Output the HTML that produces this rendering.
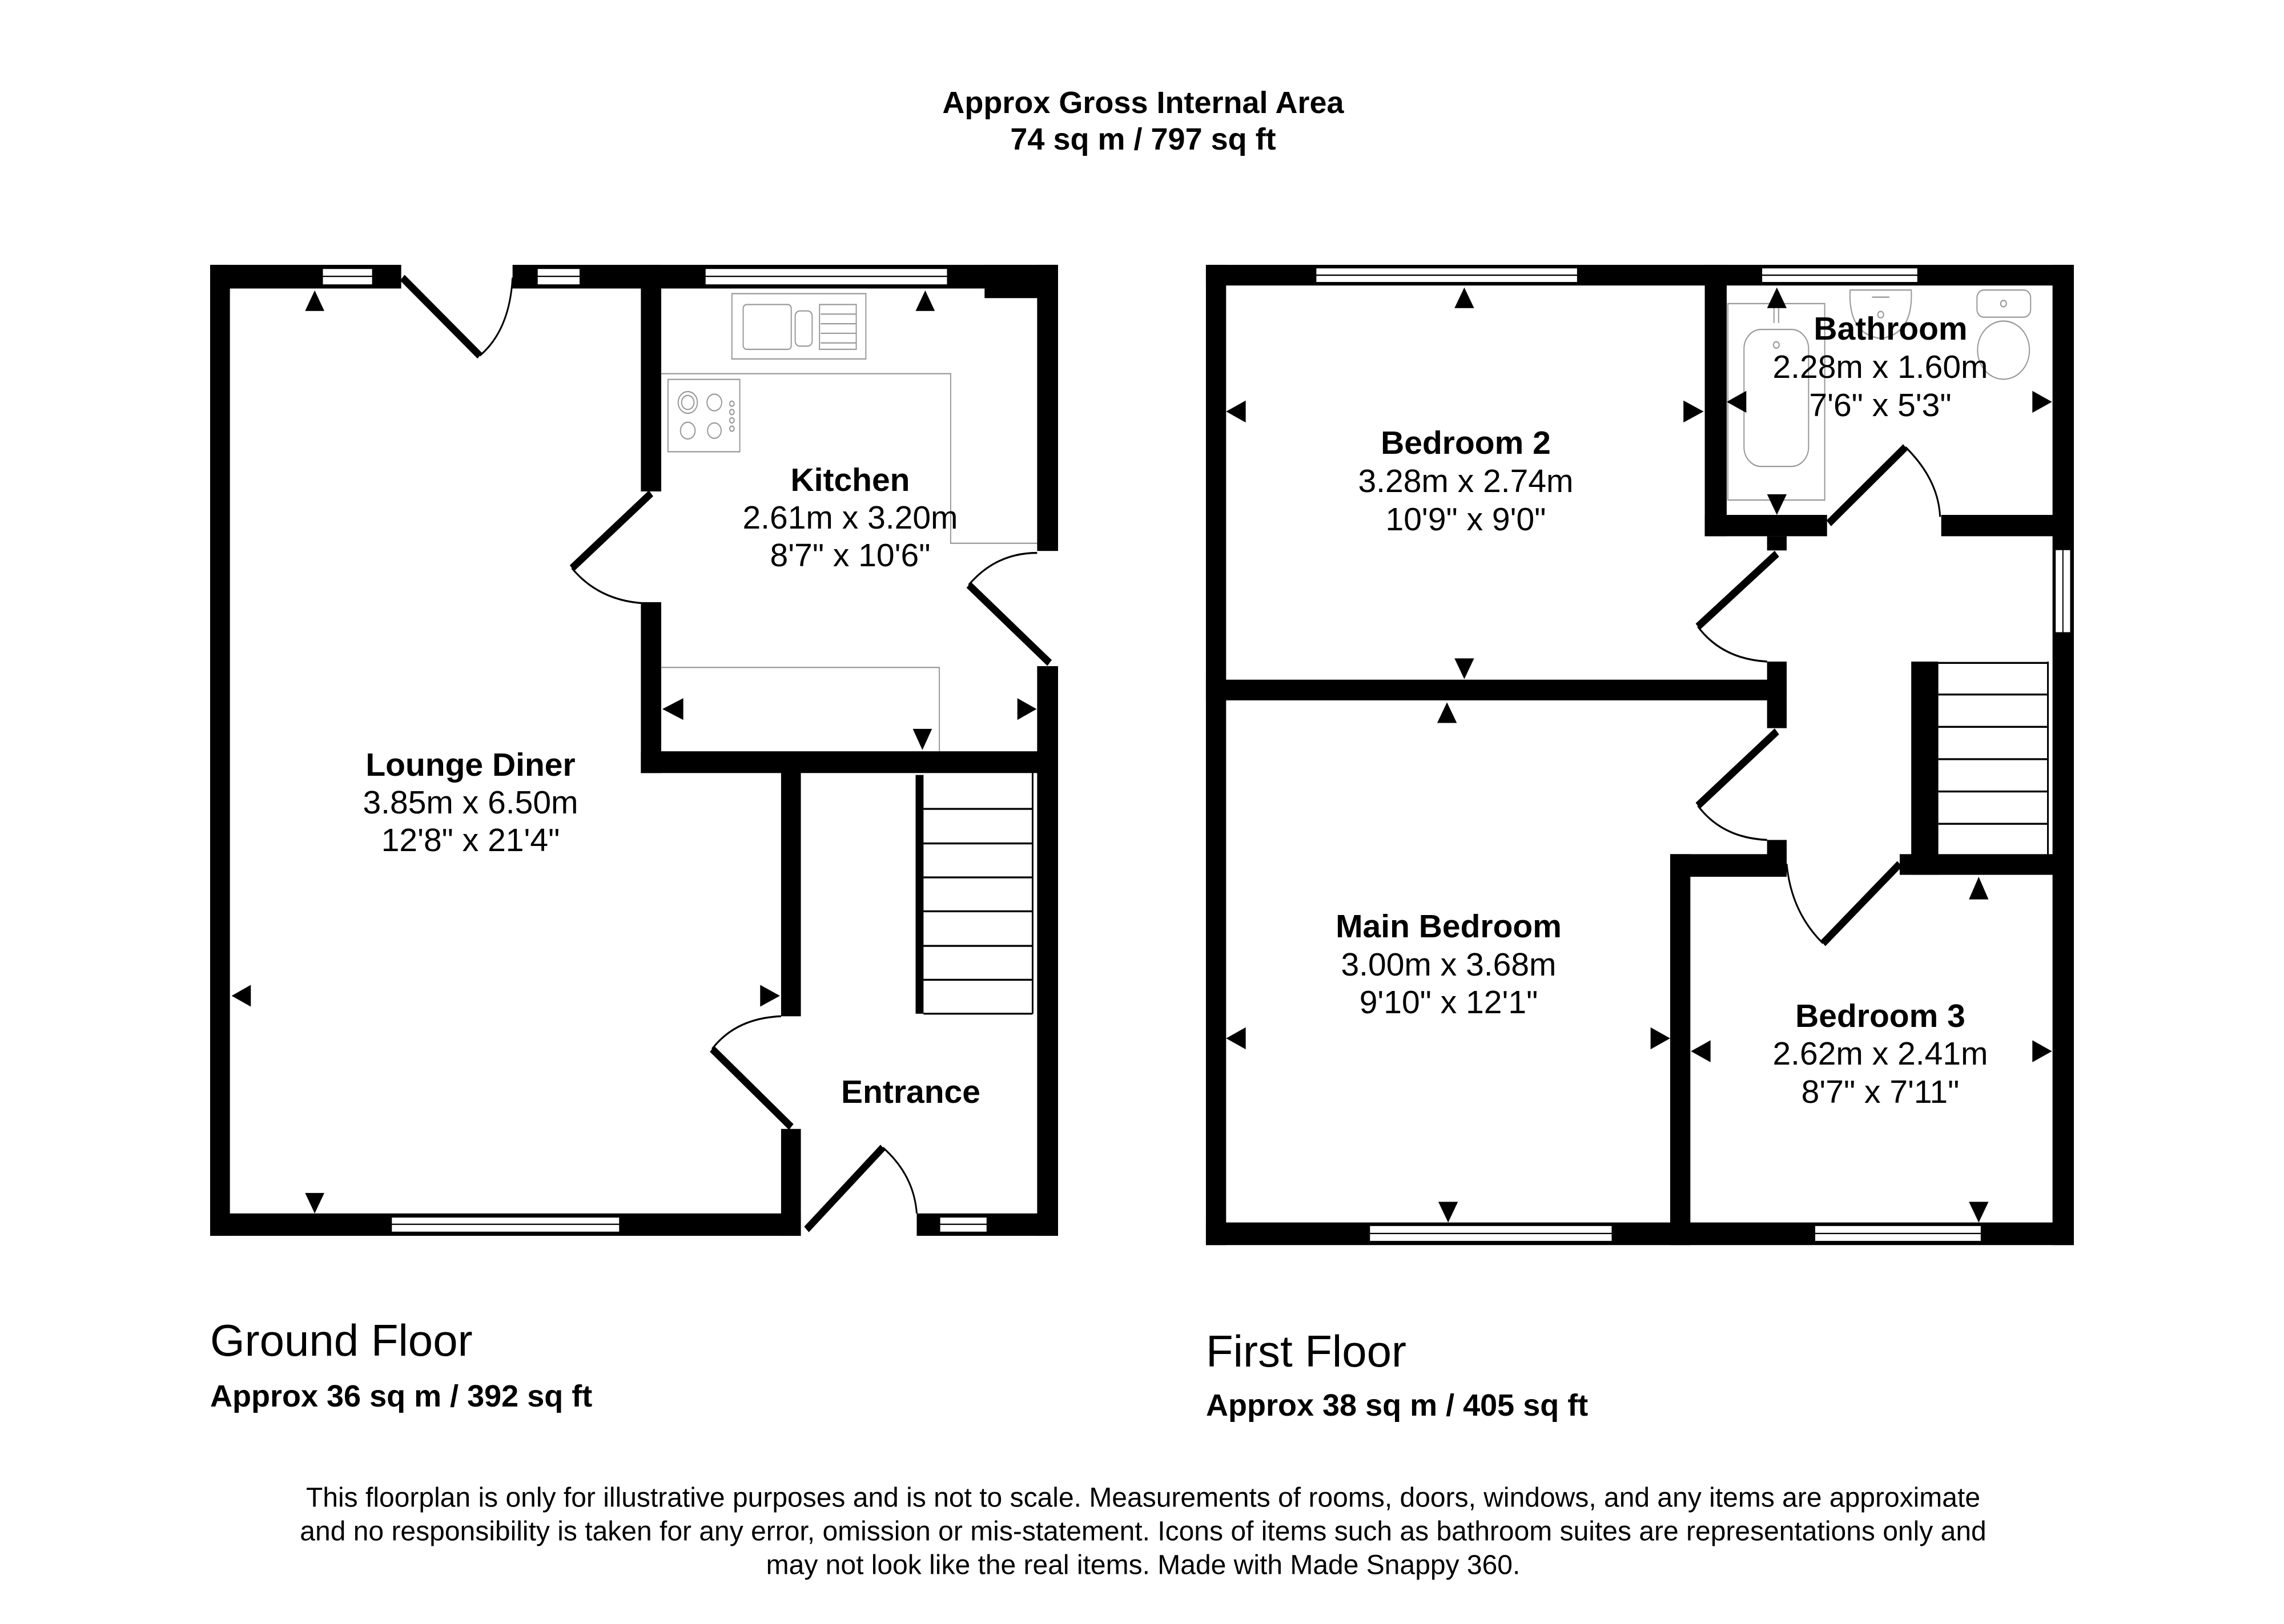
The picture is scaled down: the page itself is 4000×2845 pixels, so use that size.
<!DOCTYPE html>
<html><head><meta charset="utf-8"><style>
html,body{margin:0;padding:0;background:#fff;}
svg{display:block;}
text{font-family:"Liberation Sans",Arial,sans-serif;fill:#000;}
</style></head><body>
<svg width="4000" height="2845" viewBox="0 0 4000 2845" xmlns="http://www.w3.org/2000/svg">
<rect width="4000" height="2845" fill="#fff"/>
<text x="2002" y="180" font-size="54" font-weight="bold" text-anchor="middle" dominant-baseline="central">Approx Gross Internal Area</text>
<text x="2002" y="244" font-size="54" font-weight="bold" text-anchor="middle" dominant-baseline="central">74 sq m / 797 sq ft</text>

<!-- ===== GROUND FLOOR ===== -->
<g transform="matrix(0.99 0 0 1.1213 1.7 -49.6)">
<g fill="#000">
<rect x="370" y="458" width="1500" height="37"/>
<rect x="1740" y="458" width="130" height="52"/>
<rect x="370" y="458" width="35" height="1517"/>
<rect x="370" y="1940" width="1045" height="35"/>
<rect x="1620" y="1940" width="250" height="35"/>
<rect x="1833" y="458" width="37" height="447"/>
<rect x="1833" y="1085" width="37" height="890"/>
<rect x="1132" y="458" width="36" height="354"/>
<rect x="1132" y="985" width="36" height="267"/>
<rect x="1132" y="1218" width="738" height="34"/>
<rect x="1380" y="1250" width="35" height="382"/>
<rect x="1380" y="1808" width="35" height="167"/>
</g>
<rect x="708" y="455" width="197" height="45" fill="#fff"/>
<g fill="#fff" stroke="#000" stroke-width="3">
<rect x="568" y="463" width="90" height="27"/>
<rect x="948" y="463" width="77" height="27"/>
<rect x="1245" y="463" width="430" height="27"/>
<rect x="690" y="1945" width="405" height="25"/>
<rect x="1660" y="1945" width="85" height="25"/>
</g>
<g stroke="#000" stroke-width="2">
<line x1="568" y1="476" x2="658" y2="476"/><line x1="948" y1="476" x2="1025" y2="476"/><line x1="1245" y1="476" x2="1675" y2="476"/>
<line x1="690" y1="1957" x2="1095" y2="1957"/><line x1="1660" y1="1957" x2="1745" y2="1957"/>
</g>
<g stroke="#000" fill="none">
<line x1="710" y1="478" x2="847" y2="600" stroke-width="12"/>
<path d="M847 600 Q900 560 905 478" stroke-width="3"/>
<line x1="1150" y1="815" x2="1010" y2="932" stroke-width="12"/>
<path d="M1010 932 Q1060 985 1145 987" stroke-width="3"/>
<line x1="1855" y1="1080" x2="1712" y2="958" stroke-width="12"/>
<path d="M1712 958 Q1760 908 1833 908" stroke-width="3"/>
<line x1="1398" y1="1805" x2="1258" y2="1683" stroke-width="12"/>
<path d="M1258 1683 Q1300 1635 1380 1632" stroke-width="3"/>
<line x1="1425" y1="1965" x2="1560" y2="1837" stroke-width="12"/>
<path d="M1560 1837 Q1615 1880 1620 1940" stroke-width="3"/>
</g>
<rect x="1618" y="1255" width="14" height="373" fill="#000"/>
<g stroke="#000" stroke-width="3">
<line x1="1632" y1="1308" x2="1825" y2="1308"/><line x1="1632" y1="1362" x2="1825" y2="1362"/>
<line x1="1632" y1="1415" x2="1825" y2="1415"/><line x1="1632" y1="1468" x2="1825" y2="1468"/>
<line x1="1632" y1="1522" x2="1825" y2="1522"/><line x1="1632" y1="1575" x2="1825" y2="1575"/>
<line x1="1632" y1="1628" x2="1825" y2="1628"/><line x1="1825" y1="1252" x2="1825" y2="1628"/>
</g>
<g stroke="#999" stroke-width="2" fill="none">
<polyline points="1168,628 1680,628 1680,893 1833,893"/>
<polyline points="1168,1087 1660,1087 1660,1218"/>
<rect x="1293" y="503" width="237" height="102"/>
<rect x="1313" y="520" width="85" height="70" rx="6"/>
<rect x="1405" y="530" width="30" height="55" rx="8"/>
<rect x="1448" y="520" width="65" height="70"/>
<line x1="1450" y1="535" x2="1512" y2="535"/><line x1="1450" y1="550" x2="1512" y2="550"/><line x1="1450" y1="565" x2="1512" y2="565"/><line x1="1450" y1="580" x2="1512" y2="580"/>
<rect x="1180" y="637" width="127" height="113"/>
<circle cx="1215" cy="673" r="17"/><circle cx="1215" cy="673" r="11"/><circle cx="1262" cy="673" r="13"/>
<circle cx="1215" cy="717" r="13"/><circle cx="1262" cy="717" r="12"/>
<circle cx="1293" cy="675" r="4"/><circle cx="1293" cy="688" r="4"/><circle cx="1293" cy="701" r="4"/><circle cx="1293" cy="714" r="4"/>
</g>
<g fill="#000">
<polygon points="538,530 572,530 555,498"/>
<polygon points="1618,530 1652,530 1635,498"/>
<polygon points="442,1583 442,1617 408,1600"/>
<polygon points="1343,1583 1343,1617 1378,1600"/>
<polygon points="538,1908 572,1908 555,1940"/>
<polygon points="1207,1135 1207,1169 1170,1152"/>
<polygon points="1798,1135 1798,1169 1832,1152"/>
<polygon points="1613,1183 1647,1183 1630,1216"/>
</g>
</g>
<text x="1489" y="841" font-size="57" font-weight="bold" text-anchor="middle" dominant-baseline="central">Kitchen</text>
<text x="1489" y="907" font-size="57" text-anchor="middle" dominant-baseline="central">2.61m x 3.20m</text>
<text x="1489" y="973" font-size="57" text-anchor="middle" dominant-baseline="central">8'7" x 10'6"</text>
<text x="824" y="1340" font-size="57" font-weight="bold" text-anchor="middle" dominant-baseline="central">Lounge Diner</text>
<text x="824" y="1406" font-size="57" text-anchor="middle" dominant-baseline="central">3.85m x 6.50m</text>
<text x="824" y="1472" font-size="57" text-anchor="middle" dominant-baseline="central">12'8" x 21'4"</text>
<text x="1595" y="1913" font-size="57" font-weight="bold" text-anchor="middle" dominant-baseline="central">Entrance</text>
<text x="368" y="2348" font-size="78" dominant-baseline="central">Ground Floor</text>
<text x="368" y="2446" font-size="54" font-weight="bold" dominant-baseline="central">Approx 36 sq m / 392 sq ft</text>

<!-- ===== FIRST FLOOR ===== -->
<g transform="matrix(1.01 0 0 1.132 -24.2 -54.5)">
<g fill="#000">
<rect x="2115" y="458" width="1505" height="32"/>
<rect x="2115" y="458" width="35" height="1517"/>
<rect x="3583" y="458" width="37" height="1517"/>
<rect x="2115" y="1940" width="1505" height="35"/>
<rect x="2980" y="458" width="38" height="420"/>
<rect x="2980" y="845" width="212" height="33"/>
<rect x="3390" y="845" width="230" height="33"/>
<rect x="3088" y="878" width="34" height="22"/>
<rect x="2115" y="1100" width="1007" height="32"/>
<rect x="3088" y="1072" width="34" height="103"/>
<rect x="3088" y="1348" width="34" height="37"/>
<rect x="2920" y="1370" width="35" height="605"/>
<rect x="2920" y="1370" width="202" height="35"/>
<rect x="3318" y="1370" width="302" height="32"/>
<rect x="3338" y="1072" width="47" height="330"/>
</g>
<g fill="#fff" stroke="#000" stroke-width="3">
<rect x="2305" y="462" width="455" height="24"/>
<rect x="3078" y="462" width="272" height="24"/>
<rect x="2398" y="1944" width="422" height="26"/>
<rect x="3170" y="1944" width="290" height="26"/>
<rect x="3587" y="898" width="28" height="130"/>
</g>
<g stroke="#000" stroke-width="2">
<line x1="2305" y1="474" x2="2760" y2="474"/><line x1="3078" y1="474" x2="3350" y2="474"/>
<line x1="2398" y1="1957" x2="2820" y2="1957"/><line x1="3170" y1="1957" x2="3460" y2="1957"/>
<line x1="3601" y1="898" x2="3601" y2="1028"/>
</g>
<g stroke="#000" stroke-width="3">
<line x1="3385" y1="1123" x2="3575" y2="1123"/><line x1="3385" y1="1173" x2="3575" y2="1173"/>
<line x1="3385" y1="1223" x2="3575" y2="1223"/><line x1="3385" y1="1273" x2="3575" y2="1273"/>
<line x1="3385" y1="1323" x2="3575" y2="1323"/><line x1="3385" y1="1074" x2="3575" y2="1074"/>
<line x1="3575" y1="1072" x2="3575" y2="1370"/>
</g>
<g stroke="#000" fill="none">
<line x1="3105" y1="905" x2="2968" y2="1018" stroke-width="12"/>
<path d="M2968 1018 Q3010 1068 3088 1072" stroke-width="3"/>
<line x1="3105" y1="1180" x2="2968" y2="1295" stroke-width="12"/>
<path d="M2968 1295 Q3010 1345 3088 1348" stroke-width="3"/>
<line x1="3318" y1="1385" x2="3185" y2="1508" stroke-width="12"/>
<path d="M3185 1508 Q3130 1460 3122 1385" stroke-width="3"/>
<line x1="3195" y1="858" x2="3328" y2="740" stroke-width="12"/>
<path d="M3328 740 Q3385 790 3388 848" stroke-width="3"/>
</g>
<g stroke="#999" stroke-width="2" fill="none">
<rect x="3020" y="518" width="168" height="304"/>
<rect x="3048" y="558" width="112" height="212" rx="30"/>
<circle cx="3104" cy="582" r="5"/>
<line x1="3100" y1="520" x2="3100" y2="548"/><line x1="3108" y1="520" x2="3108" y2="548"/>
<path d="M3232 497 L3338 497 Q3342 565 3285 572 Q3228 565 3232 497 Z"/>
<circle cx="3285" cy="535" r="5"/>
<line x1="3270" y1="508" x2="3300" y2="508"/>
<rect x="3452" y="497" width="93" height="42" rx="12"/>
<ellipse cx="3498" cy="590" rx="45" ry="45"/>
<circle cx="3498" cy="518" r="5"/>
</g>
<g fill="#000">
<polygon points="2546,525 2580,525 2563,493"/>
<polygon points="2184,668 2184,702 2150,685"/>
<polygon points="2943,668 2943,702 2978,685"/>
<polygon points="2546,1067 2580,1067 2563,1099"/>
<polygon points="2516,1167 2550,1167 2533,1135"/>
<polygon points="2184,1638 2184,1672 2150,1655"/>
<polygon points="2886,1638 2886,1672 2920,1655"/>
<polygon points="2518,1908 2552,1908 2535,1940"/>
<polygon points="3088,525 3122,525 3105,493"/>
<polygon points="3052,653 3052,687 3018,670"/>
<polygon points="3548,653 3548,687 3582,670"/>
<polygon points="3088,813 3122,813 3105,845"/>
<polygon points="3438,1440 3472,1440 3455,1405"/>
<polygon points="2990,1658 2990,1692 2956,1675"/>
<polygon points="3548,1658 3548,1692 3582,1675"/>
<polygon points="3438,1908 3472,1908 3455,1940"/>
</g>
</g>
<text x="2567" y="776" font-size="57" font-weight="bold" text-anchor="middle" dominant-baseline="central">Bedroom 2</text>
<text x="2567" y="843" font-size="57" text-anchor="middle" dominant-baseline="central">3.28m x 2.74m</text>
<text x="2567" y="910" font-size="57" text-anchor="middle" dominant-baseline="central">10'9" x 9'0"</text>
<text x="3311" y="576" font-size="57" font-weight="bold" text-anchor="middle" dominant-baseline="central">Bathroom</text>
<text x="3293" y="643" font-size="57" text-anchor="middle" dominant-baseline="central">2.28m x 1.60m</text>
<text x="3293" y="710" font-size="57" text-anchor="middle" dominant-baseline="central">7'6" x 5'3"</text>
<text x="2537" y="1623" font-size="57" font-weight="bold" text-anchor="middle" dominant-baseline="central">Main Bedroom</text>
<text x="2537" y="1690" font-size="57" text-anchor="middle" dominant-baseline="central">3.00m x 3.68m</text>
<text x="2537" y="1756" font-size="57" text-anchor="middle" dominant-baseline="central">9'10" x 12'1"</text>
<text x="3293" y="1780" font-size="57" font-weight="bold" text-anchor="middle" dominant-baseline="central">Bedroom 3</text>
<text x="3293" y="1846" font-size="57" text-anchor="middle" dominant-baseline="central">2.62m x 2.41m</text>
<text x="3293" y="1913" font-size="57" text-anchor="middle" dominant-baseline="central">8'7" x 7'11"</text>
<text x="2112" y="2367" font-size="78" dominant-baseline="central">First Floor</text>
<text x="2112" y="2462" font-size="54" font-weight="bold" dominant-baseline="central">Approx 38 sq m / 405 sq ft</text>

<text x="2002" y="2624" font-size="48" text-anchor="middle" dominant-baseline="central">This floorplan is only for illustrative purposes and is not to scale. Measurements of rooms, doors, windows, and any items are approximate</text>
<text x="2002" y="2683" font-size="48" text-anchor="middle" dominant-baseline="central">and no responsibility is taken for any error, omission or mis-statement. Icons of items such as bathroom suites are representations only and</text>
<text x="2002" y="2742" font-size="48" text-anchor="middle" dominant-baseline="central">may not look like the real items. Made with Made Snappy 360.</text>
</svg>
</body></html>
